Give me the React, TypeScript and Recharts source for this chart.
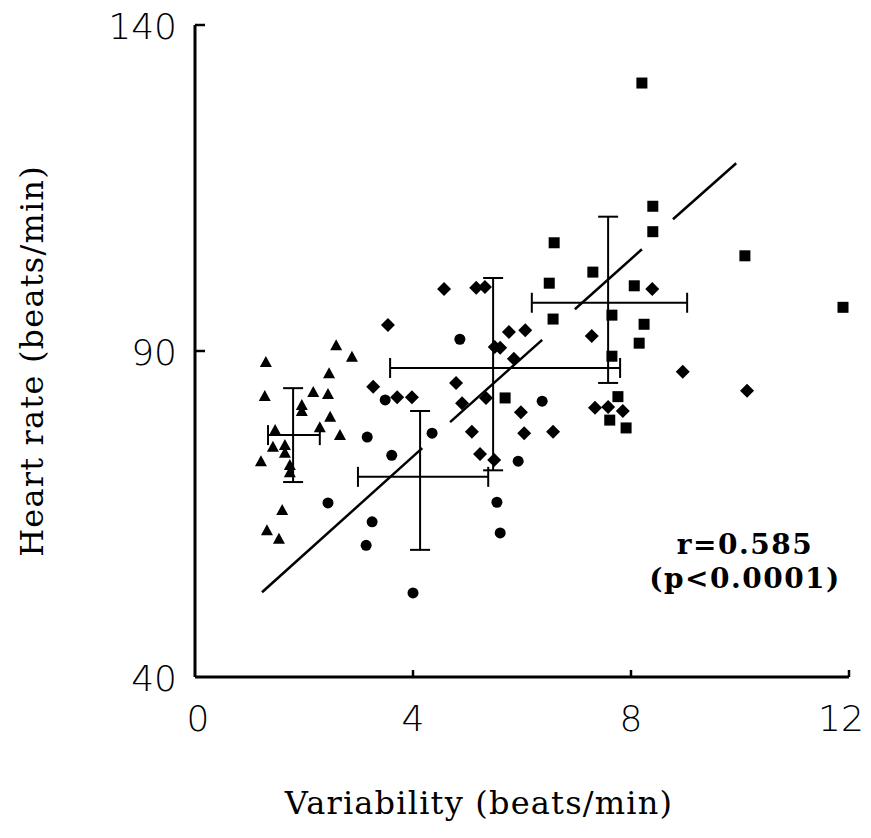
import { ErrorBar, ReferenceLine, Scatter, ScatterChart, XAxis, YAxis } from "recharts";

// variability (x) vs heart rate (y), one pair of arrays per symbol group
const TRIANGLE_X = [2.59, 2.88, 1.3, 2.46, 1.28, 2.17, 2.44, 1.96, 1.96, 2.48, 2.29, 2.66, 1.47, 1.43, 1.65, 1.65, 1.21, 1.74, 1.74, 1.6, 1.32, 1.54];
const TRIANGLE_Y = [90.9, 89.1, 88.3, 86.6, 83.1, 83.7, 83.4, 81.7, 80.8, 79.9, 78.3, 77.1, 77.9, 75.3, 75.6, 74.4, 73.1, 72.5, 71.4, 65.6, 62.5, 61.2];

const CIRCLE_X = [4.86, 3.49, 3.16, 4.35, 3.61, 3.25, 3.14, 4.0, 5.54, 5.6, 2.44, 6.37, 5.93];
const CIRCLE_Y = [91.8, 82.5, 76.8, 77.4, 74.0, 63.8, 60.2, 52.9, 66.8, 62.1, 66.7, 82.3, 73.1];

const DIAMOND_X = [3.54, 3.27, 3.71, 3.98, 4.79, 4.9, 5.34, 5.08, 5.23, 5.49, 5.5, 4.57, 5.16, 5.32, 5.76, 6.06, 5.6, 5.85, 5.98, 6.04, 6.57, 8.39, 7.28, 8.95, 7.34, 7.58, 7.85, 10.13];
const DIAMOND_Y = [94.0, 84.5, 82.9, 82.9, 85.1, 82.0, 82.8, 77.6, 74.2, 73.3, 90.6, 99.5, 99.7, 99.8, 92.9, 93.2, 90.5, 88.8, 80.6, 77.4, 77.6, 99.5, 92.3, 86.8, 81.3, 81.4, 80.8, 83.9];

const SQUARE_X = [8.2, 8.4, 8.4, 7.3, 8.06, 7.65, 8.24, 8.15, 7.65, 7.76, 7.61, 7.91, 10.09, 11.89, 5.69, 6.59, 6.5, 6.57];
const SQUARE_Y = [131.1, 112.2, 108.3, 102.1, 100.0, 95.5, 94.1, 91.2, 89.2, 83.0, 79.4, 78.2, 104.6, 96.7, 82.8, 106.6, 100.4, 94.9];

// group means with their spread (triangles, circles, diamonds, squares)
const MEAN_X = [1.8, 4.13, 5.47, 7.58];
const MEAN_Y = [77.1, 70.7, 87.4, 97.4];
const X_LOW = [1.34, 2.99, 3.58, 6.18];
const X_HIGH = [2.29, 5.38, 7.8, 9.03];
const Y_LOW = [69.9, 59.5, 71.7, 85.1];
const Y_HIGH = [84.3, 80.8, 101.2, 110.6];

// regression line, drawn broken in the original
const FIT_X_START = [1.23, 4.68, 6.97, 8.77];
const FIT_X_END = [4.17, 6.37, 8.2, 9.93];
const FIT_Y_START = [53.0, 79.1, 96.4, 110.2];
const FIT_Y_END = [75.1, 91.7, 105.6, 118.8];

const X_TICKS = [0, 4, 8, 12];
const Y_TICKS = [40, 90, 140];

const pts = (xs: number[], ys: number[]) => xs.map((x, i) => ({ x, y: ys[i] }));

const triangles = pts(TRIANGLE_X, TRIANGLE_Y);
const circles = pts(CIRCLE_X, CIRCLE_Y);
const diamonds = pts(DIAMOND_X, DIAMOND_Y);
const squares = pts(SQUARE_X, SQUARE_Y);
const means = MEAN_X.map((x, i) => ({
  x,
  y: MEAN_Y[i],
  ex: [x - X_LOW[i], X_HIGH[i] - x],
  ey: [MEAN_Y[i] - Y_LOW[i], Y_HIGH[i] - MEAN_Y[i]],
}));

const INK = "#000";
const TICK_FONT = { fontFamily: "'DejaVu Sans', sans-serif", fontWeight: 200, fontSize: 36, fill: INK };
const TITLE_FONT = "'DejaVu Serif', serif";

const Triangle = ({ cx, cy }: any) => (
  <polygon points={`${cx},${cy - 6} ${cx + 6},${cy + 5} ${cx - 6},${cy + 5}`} fill={INK} />
);
const Dot = ({ cx, cy }: any) => <circle cx={cx} cy={cy} r={5.5} fill={INK} />;
const Diamond = ({ cx, cy }: any) => (
  <polygon points={`${cx},${cy - 7} ${cx + 7},${cy} ${cx},${cy + 7} ${cx - 7},${cy}`} fill={INK} />
);
const Square = ({ cx, cy }: any) => <rect x={cx - 5.5} y={cy - 5.5} width={11} height={11} fill={INK} />;
const Nothing = () => <g />;

function XTick({ x, y, payload }: any) {
  const v = payload.value;
  // first and last labels sit a little inside, like the original lettering
  const dx = v === 0 ? 3 : v === 12 ? -8 : 0;
  return (
    <g>
      {v !== 0 && <line x1={x} x2={x} y1={y} y2={y - 7} stroke={INK} strokeWidth={2.5} />}
      <text x={x + dx} y={y + 54} textAnchor="middle" {...TICK_FONT}>
        {v}
      </text>
    </g>
  );
}

function YTick({ x, y, payload }: any) {
  return (
    <g>
      {payload.value !== 40 && <line x1={x} x2={x + 10} y1={y} y2={y} stroke={INK} strokeWidth={2.5} />}
      <text x={x - 18} y={y + 14} textAnchor="end" {...TICK_FONT}>
        {payload.value}
      </text>
    </g>
  );
}

export default function App() {
  return (
    <div style={{ position: "relative", width: 860, height: 820, background: "#fff" }}>
      <style>{`.recharts-wrapper svg { overflow: visible; }`}</style>
      <ScatterChart
        width={860}
        height={820}
        margin={{ top: 17, right: 19, bottom: 91, left: 107 }}
        style={{ overflow: "visible" }}
      >
        <XAxis
          type="number"
          dataKey="x"
          domain={[0, 12]}
          ticks={X_TICKS}
          height={60}
          axisLine={{ stroke: INK, strokeWidth: 3 }}
          tickLine={false}
          tickSize={0}
          tickMargin={0}
          tick={<XTick />}
        />
        <YAxis
          type="number"
          dataKey="y"
          domain={[40, 140]}
          ticks={Y_TICKS}
          width={80}
          axisLine={{ stroke: INK, strokeWidth: 3 }}
          tickLine={false}
          tickSize={0}
          tickMargin={0}
          tick={<YTick />}
        />
        {FIT_X_START.map((x0, i) => (
          <ReferenceLine
            key={i}
            segment={[
              { x: x0, y: FIT_Y_START[i] },
              { x: FIT_X_END[i], y: FIT_Y_END[i] },
            ]}
            stroke={INK}
            strokeWidth={2.5}
          />
        ))}
        <Scatter data={means} shape={<Nothing />} isAnimationActive={false}>
          <ErrorBar dataKey="ex" direction="x" width={10} stroke={INK} strokeWidth={2} />
          <ErrorBar dataKey="ey" direction="y" width={10} stroke={INK} strokeWidth={2} />
        </Scatter>
        <Scatter data={triangles} shape={<Triangle />} isAnimationActive={false} />
        <Scatter data={circles} shape={<Dot />} isAnimationActive={false} />
        <Scatter data={diamonds} shape={<Diamond />} isAnimationActive={false} />
        <Scatter data={squares} shape={<Square />} isAnimationActive={false} />
      </ScatterChart>

      <div
        style={{
          position: "absolute",
          left: 24,
          top: 353,
          transform: "translate(-50%, -50%) rotate(-90deg)",
          fontFamily: TITLE_FONT,
          fontSize: 32,
          letterSpacing: 1.2,
          whiteSpace: "nowrap",
        }}
      >
        Heart rate (beats/min)
      </div>
      <div
        style={{
          position: "absolute",
          left: 471,
          top: 795,
          transform: "translate(-50%, -50%)",
          fontFamily: TITLE_FONT,
          fontSize: 32,
          letterSpacing: 1.2,
          whiteSpace: "nowrap",
        }}
      >
        Variability (beats/min)
      </div>
      <div
        style={{
          position: "absolute",
          left: 737,
          top: 520,
          transform: "translateX(-50%)",
          fontFamily: TITLE_FONT,
          fontWeight: 700,
          fontSize: 28,
          letterSpacing: 1.5,
          lineHeight: "34px",
          textAlign: "center",
          whiteSpace: "nowrap",
        }}
      >
        r=0.585
        <br />
        (p&lt;0.0001)
      </div>
    </div>
  );
}
